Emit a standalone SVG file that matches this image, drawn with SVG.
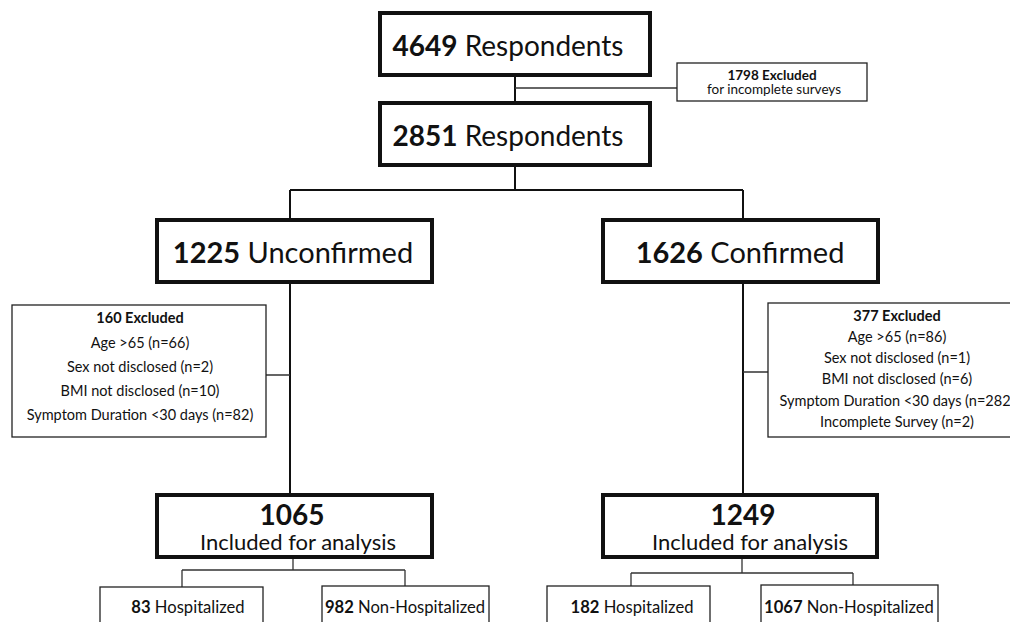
<svg xmlns="http://www.w3.org/2000/svg" width="1010" height="622" viewBox="0 0 1010 622">
<style>
text{font-family:Lato,"Liberation Sans",sans-serif;fill:#111;text-anchor:middle}
.b{font-weight:bold}
.main{fill:#fff;stroke:#111;stroke-width:4}
.thin{fill:#fff;stroke:#222;stroke-width:1.3}
.ln{fill:none;stroke:#111;stroke-width:2}
.lt{fill:none;stroke:#333;stroke-width:1.3}
.big{font-size:29px}
.resp{font-size:28px}
.sm{font-size:14.5px}
.xs{font-size:13.5px}
.sub{font-size:16.6px}
.num{font-size:28px;font-weight:bold}
.inc{font-size:22px}
</style>
<rect width="1010" height="622" fill="#fff"/>
<g id="connectors">
<path class="ln" d="M515 75V103M515 165V190M290 190H743M290 190V220M743 190V220"/>
<path class="lt" d="M515 88H677"/>
<path class="ln" d="M290 282V495M743 282V495"/>
<path class="lt" d="M266 375H290M743 372H768"/>
<path class="lt" d="M293 557V570M182 570H405M182 570V587M405 570V586"/>
<path class="lt" d="M742 557V573M631 573H853M631 573V586M853 573V585"/>
</g>
<g id="n4649"><rect class="main" x="380" y="13" width="270" height="62"/><text class="resp" x="508" y="56"><tspan class="b">4649</tspan> Respondents</text></g>
<g id="excl1798"><rect class="thin" x="677" y="63" width="190" height="38"/><text class="xs b" x="772" y="80">1798 Excluded</text><text class="xs" x="774" y="94">for incomplete surveys</text></g>
<g id="n2851"><rect class="main" x="380" y="103" width="270" height="62"/><text class="resp" x="508" y="146"><tspan class="b">2851</tspan> Respondents</text></g>
<g id="unconfirmed"><rect class="main" x="157" y="220" width="275" height="62"/><text class="big" x="293" y="263"><tspan class="b">1225</tspan> Unconfirmed</text></g>
<g id="confirmed"><rect class="main" x="603" y="220" width="275" height="62"/><text class="big" x="740" y="263"><tspan class="b">1626</tspan> Confirmed</text></g>
<g id="excl160"><rect class="thin" x="12" y="305" width="254" height="132"/>
<text class="sm b" x="140" y="323">160 Excluded</text>
<text class="sm" x="140" y="348">Age &gt;65 (n=66)</text>
<text class="sm" x="140" y="372">Sex not disclosed (n=2)</text>
<text class="sm" x="140" y="396">BMI not disclosed (n=10)</text>
<text class="sm" x="140" y="420">Symptom Duration &lt;30 days (n=82)</text></g>
<g id="excl377"><rect class="thin" x="768" y="303" width="250" height="134"/>
<text class="sm b" x="897" y="321">377 Excluded</text>
<text class="sm" x="897" y="342">Age &gt;65 (n=86)</text>
<text class="sm" x="897" y="363">Sex not disclosed (n=1)</text>
<text class="sm" x="897" y="384">BMI not disclosed (n=6)</text>
<text class="sm" x="897" y="406">Symptom Duration &lt;30 days (n=282)</text>
<text class="sm" x="897" y="427">Incomplete  Survey (n=2)</text></g>
<g id="incl1065"><rect class="main" x="157" y="495" width="275" height="62"/><text class="num" x="292" y="525">1065</text><text class="inc" x="298" y="550">Included for analysis</text></g>
<g id="incl1249"><rect class="main" x="603" y="495" width="274" height="62"/><text class="num" x="743" y="525">1249</text><text class="inc" x="750" y="550">Included for analysis</text></g>
<g id="h83"><rect class="thin" x="100" y="587" width="163" height="50"/><text class="sub" x="188" y="613"><tspan class="b">83</tspan> Hospitalized</text></g>
<g id="nh982"><rect class="thin" x="322" y="586" width="167" height="50"/><text class="sub" x="405" y="613"><tspan class="b">982</tspan> Non-Hospitalized</text></g>
<g id="h182"><rect class="thin" x="547" y="586" width="163" height="50"/><text class="sub" x="632" y="613"><tspan class="b">182</tspan> Hospitalized</text></g>
<g id="nh1067"><rect class="thin" x="761" y="585" width="177" height="50"/><text class="sub" x="849" y="613"><tspan class="b">1067</tspan> Non-Hospitalized</text></g>
</svg>
